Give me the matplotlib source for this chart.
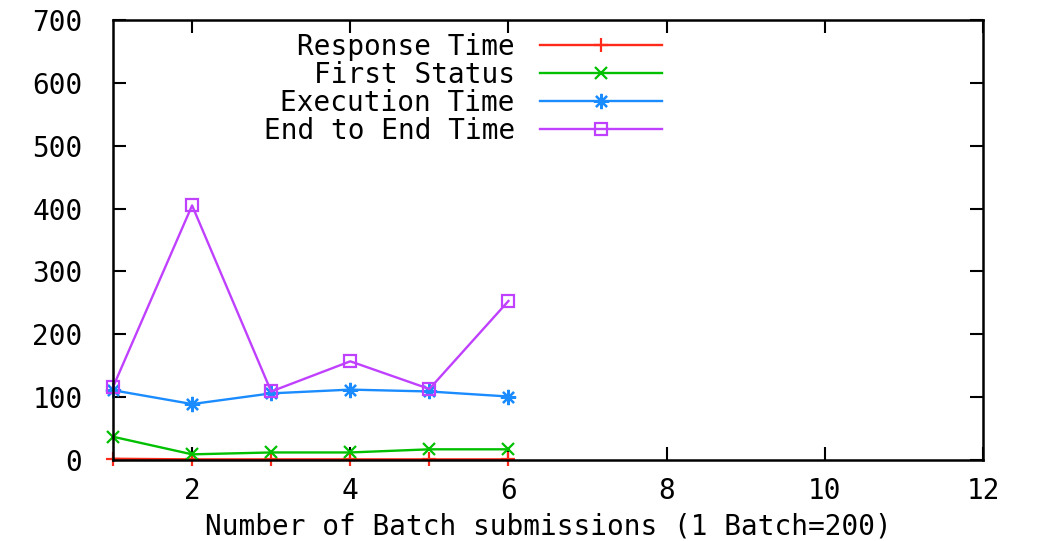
import matplotlib
matplotlib.use("Agg")
import matplotlib.pyplot as plt

# Data
batches = [1, 2, 3, 4, 5, 6]
response_time = [2, 1, 1, 1, 1, 1]
first_status = [37, 9, 12, 12, 17, 17]
execution_time = [111, 89, 106, 112, 109, 101]
end_to_end_time = [116, 405, 109, 157, 113, 253]

series_labels = ["Response Time", "First Status", "Execution Time", "End to End Time"]
x_ticks = [2, 4, 6, 8, 10, 12]
y_ticks = [0, 100, 200, 300, 400, 500, 600, 700]
x_label = "Number of Batch submissions (1 Batch=200)"

FONT = "DejaVu Sans Mono"
FS = 20

fig = plt.figure(figsize=(10.6, 5.41), dpi=100)
ax = fig.add_axes([113 / 1060, 1 - 460 / 541, (983 - 113) / 1060, (460 - 20) / 541])

colors = ["#ff2a1a", "#00c000", "#1a8cff", "#c040ff"]
markers = ["+", "x", (8, 2, 0), "s"]
msizes = [10, 9, 11, 8]
all_series = [response_time, first_status, execution_time, end_to_end_time]
for ys, lab, c, m, ms in zip(all_series, series_labels, colors, markers, msizes):
    kw = dict(markerfacecolor="none") if m == "s" else {}
    ax.plot(batches, ys, color=c, marker=m, markersize=ms, markeredgewidth=1.6,
            linewidth=1.7, label=lab, clip_on=False, **kw)

ax.set_xlim(1, 12)
ax.set_ylim(0, 700)
ax.set_xticks(x_ticks)
ax.set_yticks(y_ticks)
ax.tick_params(direction="in", length=9.5, width=1.5, top=True, right=True,
               labelsize=FS, pad=12)
ax.tick_params(axis="y", pad=22)
for lbl in ax.get_xticklabels() + ax.get_yticklabels():
    lbl.set_fontfamily(FONT)
for sp in ax.spines.values():
    sp.set_linewidth(1.8)

ax.set_xlabel(x_label, fontsize=FS, fontfamily=FONT, labelpad=6)

leg = ax.legend(loc="upper left", bbox_to_anchor=(0.0, 1.0), frameon=False,
                markerfirst=False, prop={"family": FONT, "size": FS},
                handlelength=4.4, handletextpad=0.9, labelspacing=0.0,
                borderaxespad=0.0, borderpad=0.0)
for col in leg._legend_handle_box.get_children():
    col.align = "right"
# place legend: handle right end near 662px, first row near y=45px
fig.canvas.draw()
bb = leg.get_window_extent()
target_right = 662
ax_bb = ax.get_window_extent()
dx = (target_right - bb.x1)
dy = (fig.bbox.height - 33) - bb.y1
leg.set_bbox_to_anchor(((bb.x0 + dx - ax_bb.x0) / ax_bb.width,
                        (bb.y1 + dy - ax_bb.y0) / ax_bb.height), transform=ax.transAxes)

fig.savefig("out.png", dpi=100)
